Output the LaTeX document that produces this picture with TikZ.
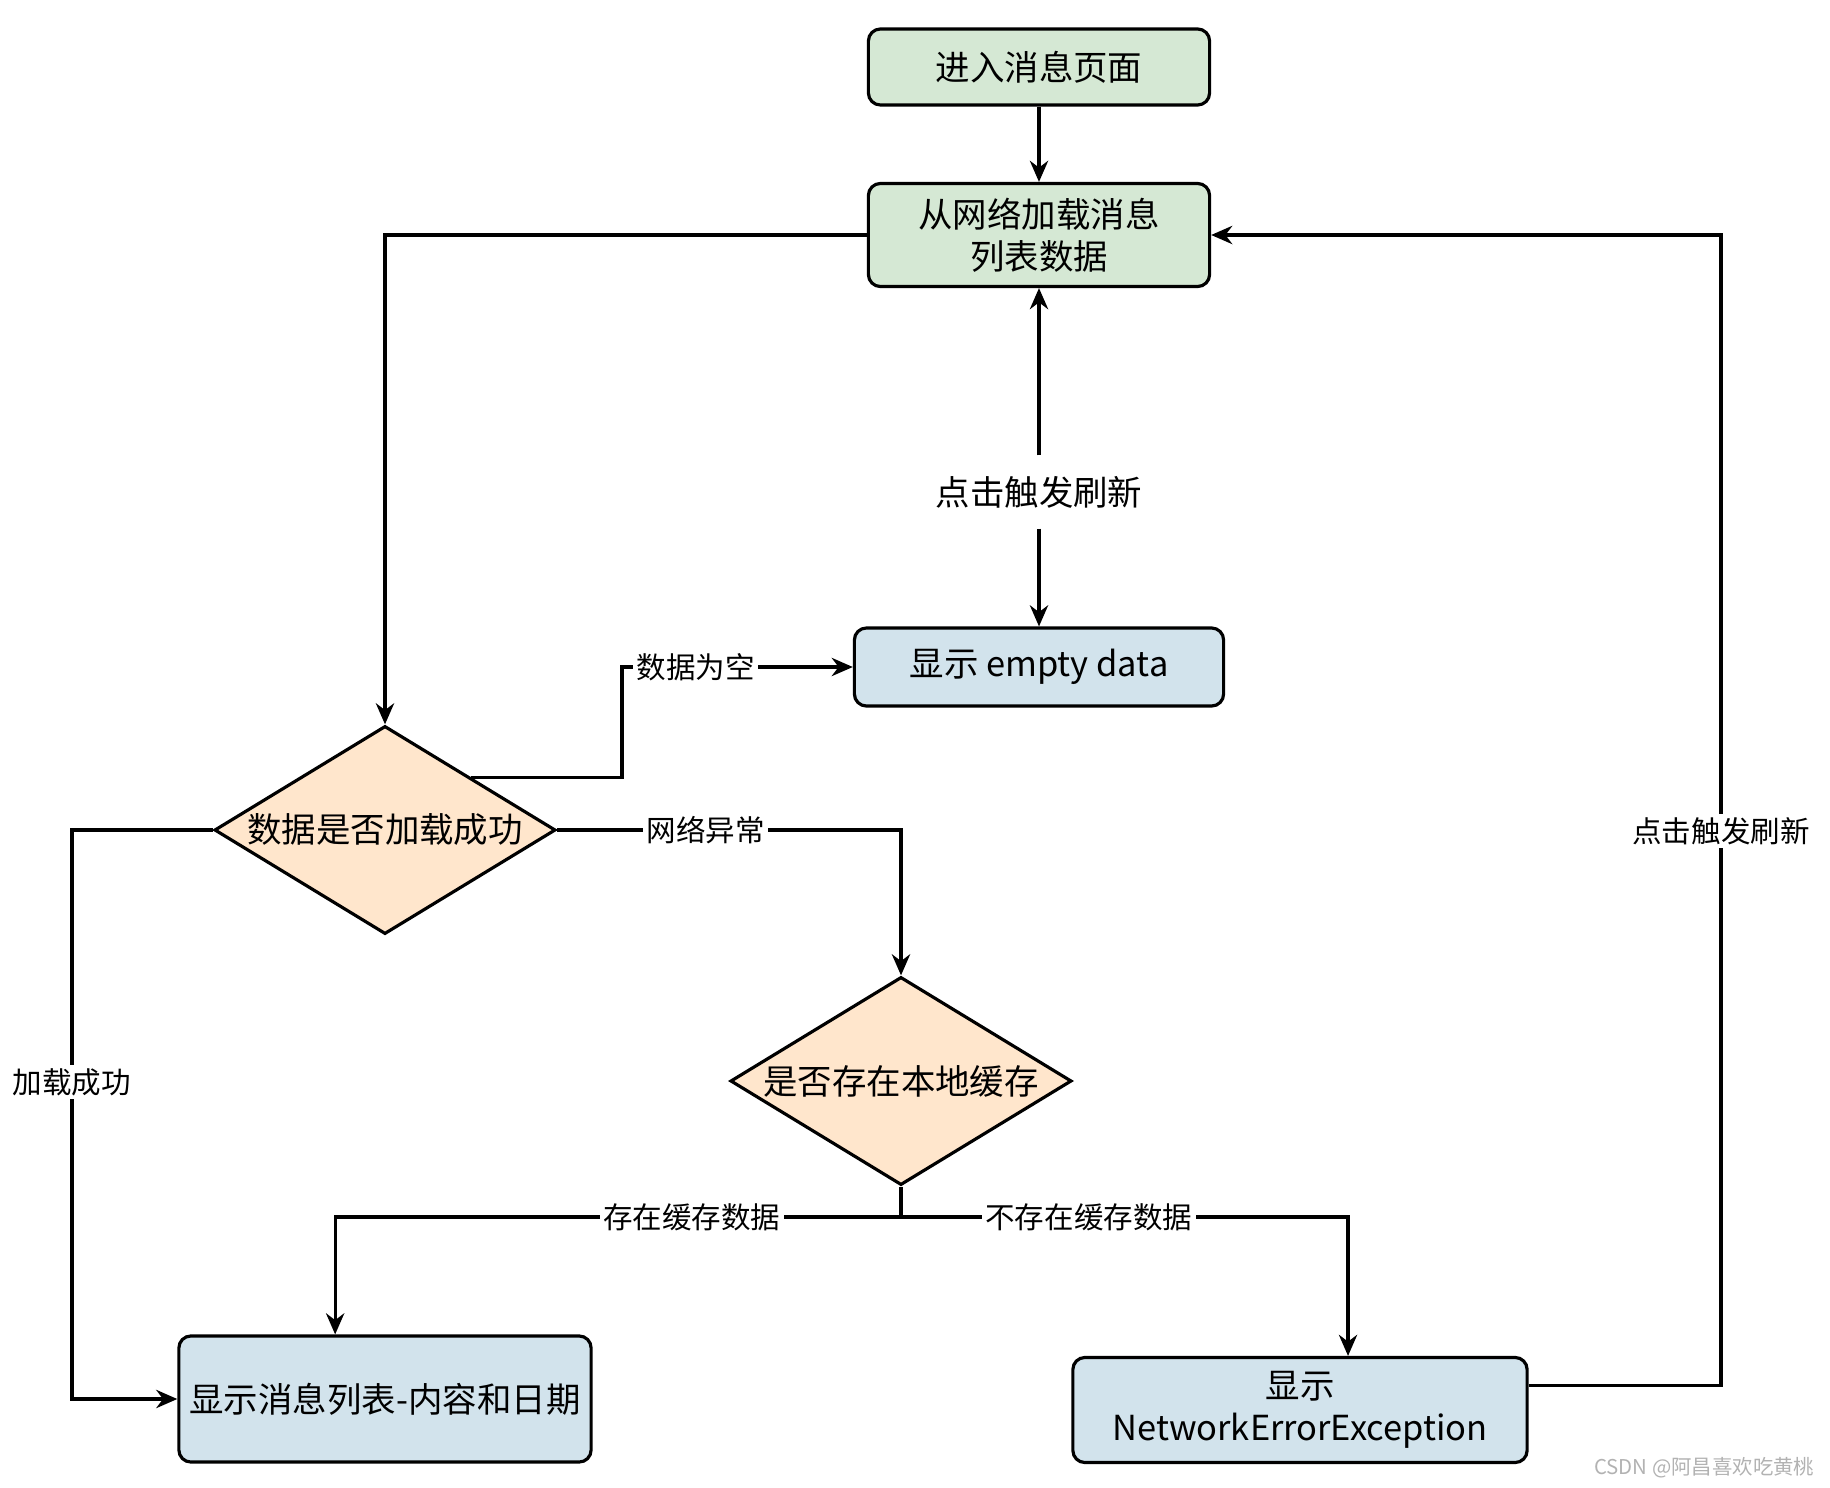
\documentclass[tikz,border=0pt]{standalone}
\usepackage{fontspec}
\setmainfont{Noto Sans CJK SC}
\usetikzlibrary{positioning,calc,shapes.geometric,arrows.meta}
\definecolor{boxgreen}{RGB}{213,232,212}
\definecolor{boxblue}{RGB}{210,227,236}
\definecolor{boxorange}{RGB}{255,230,204}
\tikzset{flowbox/.style={draw,line width=0.9pt,rounded corners=0.12cm,inner sep=0pt,align=center,font=\fontsize{9.8pt}{12pt}\selectfont},
  decide/.style={draw,diamond,fill=boxorange,line width=0.9pt,inner sep=0pt,minimum width=3.41cm,minimum height=2.08cm,font=\fontsize{9.8pt}{12pt}\selectfont},
  arr/.style={-{Stealth[length=6pt,width=5.2pt]},line width=0.9pt},
  lbl/.style={fill=white,inner sep=1pt,font=\fontsize{8.4pt}{10pt}\selectfont}}

\begin{document}
\begin{tikzpicture}[x=0.01cm,y=-0.01cm]
    \useasboundingbox (0,0) rectangle (1830,1488);
    \node[flowbox,fill=boxgreen,minimum width=3.41cm,minimum height=0.76cm] (Enter) at (1039,67) {进入消息页面};
    \node[flowbox,fill=boxgreen,minimum width=3.41cm,minimum height=1.03cm] (Load) at (1039,235) {从网络加载消息\\列表数据};
    \node[inner xsep=2pt,inner ysep=0.2cm,font=\fontsize{9.8pt}{12pt}\selectfont] (Refresh) at (1039,492) {点击触发刷新};
    \node[flowbox,fill=boxblue,minimum width=3.69cm,minimum height=0.78cm] (Empty) at (1039,667) {显示 empty data};
    \node[decide] (Ok) at (385,830) {\makebox[0pt]{数据是否加载成功}};
    \node[decide] (Cache) at (901,1081) {\makebox[0pt]{是否存在本地缓存}};
    \node[flowbox,fill=boxblue,minimum width=4.12cm,minimum height=1.26cm] (List) at (385,1399) {显示消息列表-内容和日期};
    \node[flowbox,fill=boxblue,minimum width=4.54cm,minimum height=1.05cm] (Err) at (1300,1410) {显示\\NetworkErrorException};
    \node[anchor=east,text=gray!60,inner sep=0pt,font=\fontsize{5.8pt}{7pt}\selectfont] (Mark) at (1815,1468) {CSDN @阿昌喜欢吃黄桃};
    \coordinate (OkNE) at ($(Ok.north)!0.5!(Ok.east)$);
    \coordinate (Bend) at (622,669);
    \coordinate (Split) at (901,1217);
    \coordinate (ListIn) at ($(List.north west)!0.38!(List.north east)$);
    \coordinate (ErrIn) at ($(Err.north west)!0.605!(Err.north east)$);
    \coordinate (ErrOut) at ($(Err.north east)!0.27!(Err.south east)$);
    \coordinate (L) at (72,1082);
    \coordinate (R) at (1721,831);
    \draw[arr] (Enter) -- (Load);
    \draw[arr] (Refresh) -- (Load);
    \draw[arr] (Refresh) -- (Empty);
    \draw[arr] (Load.west) -| (Ok.north);
    \draw[arr] (OkNE) -| (Bend |- Empty.west) -- node[lbl,pos=0.32] {数据为空} (Empty.west);
    \draw[arr] (Ok.east) -| node[lbl,pos=0.216] {网络异常} (Cache.north);
    \draw[arr] (Ok.west) -| (L) node[lbl] {加载成功} |- (List.west);
    \draw[arr] (Cache.south) -- (Split) -| node[lbl,pos=0.185] {存在缓存数据} (ListIn);
    \draw[arr] (Split) -| node[lbl,pos=0.21] {不存在缓存数据} (ErrIn);
    \draw[arr] (ErrOut) -| (R) node[lbl] {点击触发刷新} |- (Load.east);
\end{tikzpicture}
\end{document}
